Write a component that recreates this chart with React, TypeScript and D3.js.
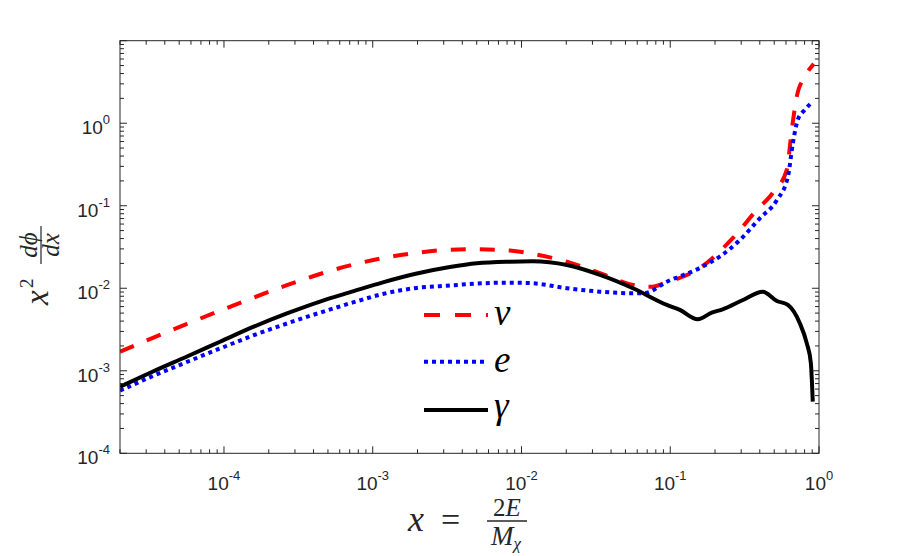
import { useMemo } from "react";
import { scaleLog, line as d3Line, curveMonotoneX } from "d3";

// nu (dashed red)
const nuX = [2.0e-5, 3.33e-5, 5.64e-5, 9.4e-5, 1.57e-4, 2.65e-4, 4.42e-4, 7.36e-4, 1.17e-3, 1.98e-3, 3.3e-3, 5.01e-3, 8.36e-3, 0.0119, 0.0202, 0.0337, 0.0561, 0.073, 0.0948, 0.158, 0.264, 0.382, 0.489, 0.607, 0.656, 0.708, 0.802, 0.923];
const nuY = [1.7e-3, 2.51e-3, 3.7e-3, 5.35e-3, 7.67e-3, 0.0109, 0.0149, 0.0193, 0.0232, 0.0269, 0.0293, 0.0297, 0.0286, 0.0261, 0.021, 0.0153, 0.011, 0.0104, 0.0118, 0.0176, 0.0407, 0.0889, 0.143, 0.272, 0.83, 2.08, 3.65, 5.24];

// e (dotted blue)
const eX = [2.0e-5, 3.33e-5, 5.64e-5, 9.4e-5, 1.57e-4, 2.65e-4, 4.42e-4, 7.36e-4, 1.17e-3, 1.98e-3, 3.3e-3, 5.01e-3, 8.36e-3, 0.0119, 0.0202, 0.0337, 0.0561, 0.0675, 0.0948, 0.158, 0.215, 0.294, 0.4, 0.521, 0.618, 0.667, 0.72, 0.802, 0.908];
const eY = [5.74e-4, 8.65e-4, 1.28e-3, 1.86e-3, 2.68e-3, 3.74e-3, 5.06e-3, 6.73e-3, 8.53e-3, 0.0101, 0.0108, 0.0114, 0.0117, 0.0115, 0.01, 0.0091, 0.0087, 0.00875, 0.012, 0.0176, 0.0242, 0.0384, 0.0704, 0.117, 0.225, 0.573, 1.1, 1.45, 1.83];

// gamma (solid black)
const gX = [2.0e-5, 3.33e-5, 5.64e-5, 9.4e-5, 1.57e-4, 2.65e-4, 4.42e-4, 7.36e-4, 1.17e-3, 1.98e-3, 3.3e-3, 5.01e-3, 8.36e-3, 0.0119, 0.0202, 0.0337, 0.0561, 0.0948, 0.116, 0.153, 0.19, 0.225, 0.308, 0.419, 0.521, 0.618, 0.743, 0.828, 0.881, 0.908];
const gY = [6.41e-4, 9.8e-4, 1.49e-3, 2.25e-3, 3.4e-3, 4.95e-3, 6.89e-3, 9.15e-3, 0.0118, 0.0151, 0.0181, 0.0201, 0.021, 0.0212, 0.0191, 0.0145, 0.01, 0.00628, 0.00546, 0.00421, 0.00506, 0.00556, 0.00721, 0.0091, 0.00702, 0.00628, 0.00377, 0.00215, 0.00125, 0.000422];

const xTickExps = [-4, -3, -2, -1, 0];
const yTickExps = [-4, -3, -2, -1, 0];
const legendLabels = ["ν", "e", "γ"];

const X_DOMAIN: [number, number] = [2e-5, 1];
const Y_DOMAIN: [number, number] = [1e-4, 10];
const PLOT = { left: 120, right: 819, top: 40.7, bottom: 453.3 };
const AXIS_COLOR = "#262626";
const MATH_FONT = "'Liberation Serif', 'DejaVu Serif', serif";
const TICK_FONT = "'Liberation Sans', Arial, sans-serif";

const series = [
  { xs: nuX, ys: nuY, color: "#ff0000", dash: "15 14" },
  { xs: eX, ys: eY, color: "#0000ff", dash: "4 4" },
  { xs: gX, ys: gY, color: "#000000", dash: undefined },
];

export default function App() {
  const x = useMemo(() => scaleLog().domain(X_DOMAIN).range([PLOT.left, PLOT.right]), []);
  const y = useMemo(() => scaleLog().domain(Y_DOMAIN).range([PLOT.bottom, PLOT.top]), []);

  const paths = useMemo(
    () =>
      series.map((s) => {
        const gen = d3Line<number>()
          .x((i) => x(s.xs[i]))
          .y((i) => y(s.ys[i]))
          .curve(curveMonotoneX);
        return gen(s.xs.map((_, i) => i)) ?? "";
      }),
    [x, y]
  );

  // minor ticks at 2..9 × 10^d
  const xMinor: number[] = [];
  for (let d = -5; d <= -1; d++) for (let m = 2; m <= 9; m++) {
    const v = m * Math.pow(10, d);
    if (v >= X_DOMAIN[0] && v <= X_DOMAIN[1]) xMinor.push(v);
  }
  const yMinor: number[] = [];
  for (let d = -4; d <= 0; d++) for (let m = 2; m <= 9; m++) yMinor.push(m * Math.pow(10, d));

  const MAJ = 7;
  const MIN = 4;

  return (
    <svg width={904} height={556} style={{ position: "absolute", left: 0, top: 0, background: "#fff" }}>
      <defs>
        <clipPath id="plot-clip">
          <rect x={PLOT.left} y={PLOT.top} width={PLOT.right - PLOT.left} height={PLOT.bottom - PLOT.top} />
        </clipPath>
      </defs>
      <rect x={0} y={0} width={904} height={556} fill="#fff" />

      {/* curves */}
      <g clipPath="url(#plot-clip)">
        {paths.map((d, i) => (
          <path
            key={i}
            d={d}
            fill="none"
            stroke={series[i].color}
            strokeWidth={4}
            strokeDasharray={series[i].dash}
            strokeLinecap="butt"
            strokeLinejoin="round"
          />
        ))}
      </g>

      {/* axes box */}
      <rect
        x={PLOT.left}
        y={PLOT.top}
        width={PLOT.right - PLOT.left}
        height={PLOT.bottom - PLOT.top}
        fill="none"
        stroke={AXIS_COLOR}
        strokeWidth={1}
      />

      {/* ticks */}
      <g stroke={AXIS_COLOR} strokeWidth={1}>
        {xTickExps.map((e) => {
          const px = x(Math.pow(10, e));
          return (
            <g key={"xM" + e}>
              <line x1={px} x2={px} y1={PLOT.bottom} y2={PLOT.bottom - MAJ} />
              <line x1={px} x2={px} y1={PLOT.top} y2={PLOT.top + MAJ} />
            </g>
          );
        })}
        {xMinor.map((v) => {
          const px = x(v);
          return (
            <g key={"xm" + v}>
              <line x1={px} x2={px} y1={PLOT.bottom} y2={PLOT.bottom - MIN} />
              <line x1={px} x2={px} y1={PLOT.top} y2={PLOT.top + MIN} />
            </g>
          );
        })}
        {yTickExps.concat([1]).map((e) => {
          const py = y(Math.pow(10, e));
          return (
            <g key={"yM" + e}>
              <line x1={PLOT.left} x2={PLOT.left + MAJ} y1={py} y2={py} />
              <line x1={PLOT.right} x2={PLOT.right - MAJ} y1={py} y2={py} />
            </g>
          );
        })}
        {yMinor.map((v) => {
          const py = y(v);
          return (
            <g key={"ym" + v}>
              <line x1={PLOT.left} x2={PLOT.left + MIN} y1={py} y2={py} />
              <line x1={PLOT.right} x2={PLOT.right - MIN} y1={py} y2={py} />
            </g>
          );
        })}
      </g>

      {/* tick labels */}
      <g fill={AXIS_COLOR} fontFamily={TICK_FONT}>
        {xTickExps.map((e) => (
          <text key={"xl" + e} x={x(Math.pow(10, e))} y={PLOT.bottom + 37} textAnchor="middle" fontSize={19}>
            10<tspan dy={-10} fontSize={13}>{e}</tspan>
          </text>
        ))}
        {yTickExps.map((e) => (
          <text key={"yl" + e} x={PLOT.left - 10} y={y(Math.pow(10, e)) + 11} textAnchor="end" fontSize={19}>
            10<tspan dy={-10} fontSize={13}>{e}</tspan>
          </text>
        ))}
      </g>

      {/* legend */}
      <g>
        {series.map((s, i) => {
          const ly = [315, 361.7, 410][i];
          return (
            <g key={"lg" + i}>
              <line
                x1={424}
                x2={488}
                y1={ly}
                y2={ly}
                stroke={s.color}
                strokeWidth={4}
                strokeDasharray={i === 0 ? "16 15" : s.dash}
              />
              <text x={494} y={ly + (i === 2 ? 8 : 10)} fontFamily={MATH_FONT} fontStyle="italic" fontSize={37} fill="#000">
                {legendLabels[i]}
              </text>
            </g>
          );
        })}
      </g>

      {/* y label: x^2 dphi/dx */}
      <g transform="translate(41,265) rotate(-90)" fill={AXIS_COLOR} fontFamily={MATH_FONT}>
        <text x={-40} y={7} fontSize={33} fontStyle="italic">x</text>
        <text x={-23} y={-8} fontSize={19}>2</text>
        <line x1={1} x2={39} y1={0} y2={0} stroke={AXIS_COLOR} strokeWidth={1.2} />
        <text x={20} y={-4} fontSize={25} fontStyle="italic" textAnchor="middle">dϕ</text>
        <text x={20} y={18} fontSize={25} fontStyle="italic" textAnchor="middle">dx</text>
      </g>

      {/* x label: x = 2E / M_chi */}
      <g fill={AXIS_COLOR} fontFamily={MATH_FONT}>
        <text x={408} y={531} fontSize={36} fontStyle="italic">x</text>
        <text x={441} y={531} fontSize={34}>=</text>
        <line x1={487} x2={527} y1={521} y2={521} stroke={AXIS_COLOR} strokeWidth={1.3} />
        <text x={507} y={516} fontSize={25} textAnchor="middle">
          2<tspan fontStyle="italic">E</tspan>
        </text>
        <text x={506} y={545} fontSize={27} textAnchor="middle" fontStyle="italic">
          M<tspan fontSize={17} dy={4}>χ</tspan>
        </text>
      </g>
    </svg>
  );
}
